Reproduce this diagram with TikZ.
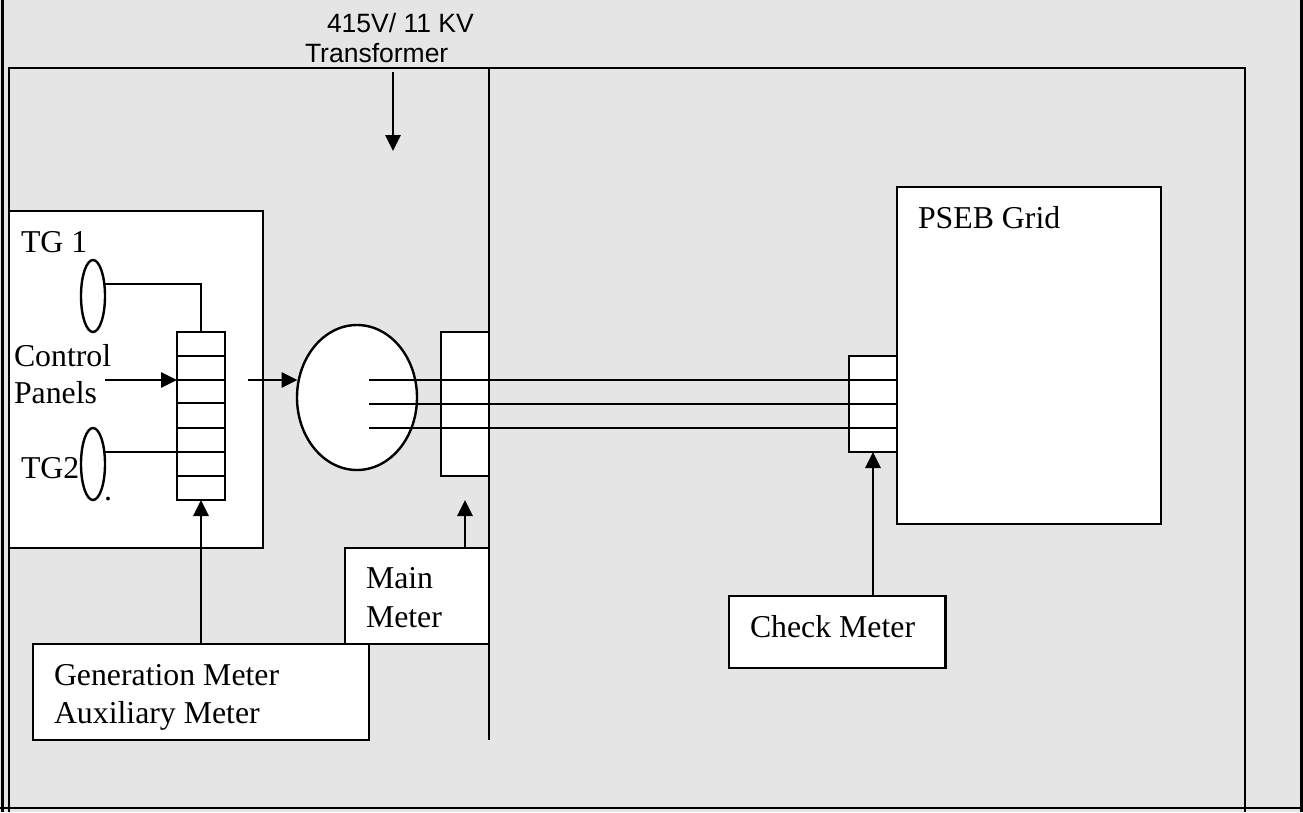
\documentclass[tikz,border=0pt]{standalone}
\usepackage{fontspec}
\setmainfont{Liberation Serif}
\newfontfamily\arialf{Liberation Sans}
\usetikzlibrary{arrows.meta,shapes.geometric}
\definecolor{bggray}{HTML}{E5E5E5}
\tikzset{
  ln/.style={draw=black,line width=2.4pt},
  arr/.style={ln,line width=2.8pt,-{Triangle[length=16pt,width=15pt]},shorten >=0pt},
  box/.style={ln,fill=white,rectangle,inner sep=0pt,outer sep=0pt,anchor=north west},
  oval/.style={ln,fill=white,ellipse,inner sep=0pt,outer sep=0pt},
  txt/.style={anchor=base west,inner sep=0pt,outer sep=0pt,font=\fontsize{31.8}{36}\selectfont},
  atxt/.style={anchor=base west,inner sep=0pt,outer sep=0pt,font=\arialf\fontsize{26.5}{30}\selectfont}
}
\begin{document}
\begin{tikzpicture}[x=1pt,y=-1pt]
\useasboundingbox (0,0) rectangle (1303,812);
\fill[bggray] (0,0) rectangle (1303,812);
% frame
\coordinate (fl1) at (2.2,0); \coordinate (fl2) at (2.2,812);
\coordinate (fr1) at (1301.5,0); \coordinate (fr2) at (1301.5,812);
\coordinate (ftl) at (9,68); \coordinate (ftr) at (1245,68);
\coordinate (fbl) at (9,812); \coordinate (fbr) at (1245,812);
\coordinate (bl) at (0,808); \coordinate (br) at (1303,808);
\draw[ln,line width=2.6pt] (fl1) -- (fl2);
\draw[ln,line width=3pt] (fr1) -- (fr2);
\draw[ln] (fbl) -- (ftl) -- (ftr) -- (fbr);
\draw[ln,line width=2.8pt] (bl) -- (br);
% divider
\coordinate (dt) at (489,68); \coordinate (db) at (489,740);
\draw[ln] (dt) -- (db);
% boxes
\node[box,minimum width=254pt,minimum height=337pt] (tg) at (9,211) {};
\node[box,minimum width=264pt,minimum height=337pt] (grid) at (897,187) {};
\node[box,minimum width=144pt,minimum height=96pt] (mainm) at (345,548) {};
\node[box,minimum width=336pt,minimum height=96pt] (genm) at (33,644) {};
\node[box,minimum width=216.5pt,minimum height=72pt] (checkm) at (729,596) {};
% generators
\node[oval,minimum width=24pt,minimum height=72pt] (tg1) at (93,296) {};
\node[oval,minimum width=24pt,minimum height=72pt] (tg2) at (93,464) {};
\node[oval,minimum width=120pt,minimum height=145pt] (xf) at (357,397.5) {};
% stacks
\node[box,minimum width=48pt,minimum height=168pt] (sa) at (177,332) {};
\node[box,minimum width=48pt,minimum height=144pt] (sb) at (441,332) {};
\node[box,minimum width=48pt,minimum height=96pt] (sc) at (849,356) {};
% stack a rows
\foreach \i/\yy in {1/356,2/380,3/403,4/428,5/452,6/476}{
  \coordinate (ra\i l) at (177,\yy);
  \coordinate (ra\i r) at (225,\yy);
  \draw[ln] (ra\i l) -- (ra\i r);
}
% bus lines
\foreach \i/\yy in {1/380,2/404,3/428}{
  \coordinate (bus\i a) at (369,\yy);
  \coordinate (bus\i b) at (897,\yy);
  \draw[ln] (bus\i a) -- (bus\i b);
}
% generator feeds
\coordinate (t1e) at (104.5,284); \coordinate (t1c) at (201,284);
\draw[ln] (t1e) -- (t1c) -- (sa.north);
\coordinate (t2e) at (105,452); \coordinate (t2c) at (177,452);
\draw[ln] (t2e) -- (t2c);
% arrows
\coordinate (ca1) at (105,380); \coordinate (ca2) at (177,380);
\draw[arr] (ca1) -- (ca2);
\coordinate (pa1) at (248,380); \coordinate (pa2) at (297.5,380);
\draw[arr] (pa1) -- (pa2);
\draw[arr] (genm.north -| sa.south) -- (sa.south);
\coordinate (ma1) at (465,548); \coordinate (ma2) at (465,500);
\draw[arr] (ma1) -- (ma2);
\coordinate (ca3) at (873,596);
\draw[arr] (ca3) -- (sc.south);
\coordinate (ta1) at (393,72); \coordinate (ta2) at (393,151);
\draw[arr] (ta1) -- (ta2);
% labels
\node[atxt] (l1) at (327,32) {415V/ 11 KV};
\node[atxt] (l2) at (305,62) {Transformer};
\node[txt] (l3) at (21,252) {TG 1};
\node[txt] (l4) at (14,366) {Control};
\node[txt] (l5) at (14,403.5) {Panels};
\node[txt] (l6) at (21,478) {TG2};
\node[txt] (l7) at (104,500) {.};
\node[txt] (l8) at (54,685) {Generation Meter};
\node[txt] (l9) at (54,723) {Auxiliary Meter};
\node[txt] (l10) at (366,588) {Main};
\node[txt] (l11) at (366,627) {Meter};
\node[txt] (l12) at (750,637) {Check Meter};
\node[txt] (l13) at (918,228) {PSEB Grid};
\end{tikzpicture}
\end{document}
